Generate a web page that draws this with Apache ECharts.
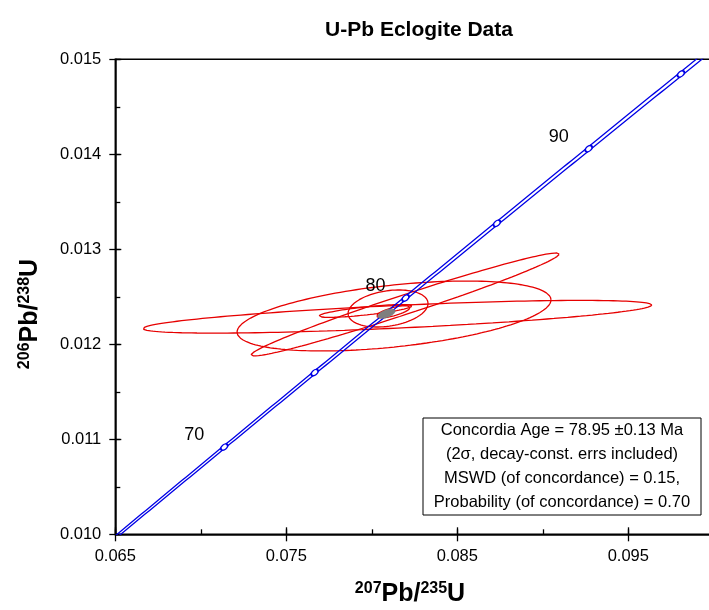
<!DOCTYPE html>
<html>
<head>
<meta charset="utf-8">
<title>U-Pb Eclogite Data</title>
<script src="https://cdn.jsdelivr.net/npm/echarts@6/dist/echarts.min.js"></script>
<style>
  html, body { margin: 0; padding: 0; background: #ffffff; }
  #chart { width: 709px; height: 610px; }
</style>
</head>
<body>
<div id="chart"></div>
<script>
// Decay constants (per year) and the relative uncertainty used for the concordia band
const LAMBDA_235 = 9.8485e-10;
const LAMBDA_238 = 1.55125e-10;
const LAMBDA_BAND = 0.0016;

// Age range of the concordia curve (Ma) and the ages that get a tick marker / a label
const curveStartMa = 60;
const curveEndMa = 100;
const markerAgesMa = [70, 75, 80, 85, 90, 95];
const labelAgesMa = [70, 80, 90];

// Analyses: 207Pb/235U, 2-sigma, 206Pb/238U, 2-sigma, error correlation
const spotPb207U235 = [0.08150, 0.08130, 0.08195, 0.08095, 0.07963, 0.08126];
const spotErr207    = [0.01488, 0.00918, 0.00901, 0.00234, 0.00272, 0.00098];
const spotPb206U238 = [0.012290, 0.012298, 0.012419, 0.012377, 0.012351, 0.012343];
const spotErr206    = [0.000172, 0.000368, 0.000542, 0.000195, 0.0000674, 0.000063];
const spotRho       = [0.72, 0.46, 0.98, 0.27, 0.78, 0.70];

// Concordia age ellipse (78.95 Ma)
const meanPb207U235 = [0.080857];
const meanErr207    = [0.00050];
const meanPb206U238 = [0.012322];
const meanErr206    = [0.000048];
const meanRho       = [0.55];

// Axis ranges and tick labels
const xMin = 0.065, xMax = 0.100, xStep = 0.01;
const yMin = 0.010, yMax = 0.015, yStep = 0.001;
const xTickLabels = ['0.065', '0.075', '0.085', '0.095'];
const yTickLabels = ['0.010', '0.011', '0.012', '0.013', '0.014', '0.015'];

const infoLines = [
  'Concordia Age = 78.95 \u00b10.13 Ma',
  '(2\u03c3, decay-const. errs included)',
  'MSWD (of concordance) = 0.15,',
  'Probability (of concordance) = 0.70'
];

function concordiaPoint(ageMa, f235) {
  const t = ageMa * 1e6;
  return [Math.exp(LAMBDA_235 * f235 * t) - 1, Math.exp(LAMBDA_238 * t) - 1];
}

function concordiaLine(f235) {
  const pts = [];
  for (let a = curveStartMa; a <= curveEndMa + 1e-9; a += 0.25) pts.push(concordiaPoint(a, f235));
  return pts;
}

function ellipsePoints(cx, sx, cy, sy, rho) {
  const pts = [];
  const n = 180;
  const k = Math.sqrt(1 - rho * rho);
  for (let i = 0; i <= n; i++) {
    const t = (i / n) * Math.PI * 2;
    const c = Math.cos(t), s = Math.sin(t);
    pts.push([cx + sx * c, cy + sy * (rho * c + k * s)]);
  }
  return pts;
}

const FONT = '"Liberation Sans", Arial, Helvetica, sans-serif';
const RED = '#e60000';
const BLUE = '#0000e6';

const series = [];

// concordia band: two curves
[1 - LAMBDA_BAND, 1 + LAMBDA_BAND].forEach(function (f) {
  series.push({
    type: 'line', data: concordiaLine(f), showSymbol: false, symbol: 'none',
    lineStyle: { color: BLUE, width: 1.3 }, silent: true, z: 4, clip: true
  });
});

// age markers on the curve
series.push({
  type: 'scatter',
  data: markerAgesMa.map(function (a) { return concordiaPoint(a, 1); }),
  symbol: 'circle', symbolSize: [8, 5], symbolRotate: 39,
  itemStyle: { color: '#ffffff', borderColor: BLUE, borderWidth: 1.6, opacity: 1 },
  z: 6, silent: true
});

// age labels
series.push({
  type: 'scatter',
  data: labelAgesMa.map(function (a) { return { value: concordiaPoint(a, 1), name: String(a) }; }),
  symbolSize: 0,
  itemStyle: { opacity: 1 },
  label: {
    show: true, position: 'inside', offset: [-30, -12],
    formatter: function (p) { return p.name; },
    color: '#000000', textBorderWidth: 0, opacity: 1, fontFamily: FONT, fontSize: 18
  },
  z: 7, silent: true
});

// analysis error ellipses
for (let i = 0; i < spotPb207U235.length; i++) {
  series.push({
    type: 'line',
    data: ellipsePoints(spotPb207U235[i], spotErr207[i], spotPb206U238[i], spotErr206[i], spotRho[i]),
    showSymbol: false, symbol: 'none',
    lineStyle: { color: RED, width: 1.3 }, silent: true, z: 3, clip: true
  });
}

// concordia age ellipse (filled)
series.push({
  type: 'custom',
  data: [0],
  silent: true, z: 5,
  renderItem: function (params, api) {
    const pts = ellipsePoints(meanPb207U235[0], meanErr207[0], meanPb206U238[0], meanErr206[0], meanRho[0])
      .map(function (p) { return api.coord(p); });
    return { type: 'polygon', shape: { points: pts }, style: { fill: '#7f7f7f', stroke: '#7f7f7f', lineWidth: 1 } };
  }
});

const axisLineStyle = { color: '#000', width: 1.5 };

function makeAxis(kind, min, max, interval, opts) {
  const base = {
    type: 'value', min: min, max: max, interval: interval,
    position: kind === 'x' ? 'bottom' : 'left',
    splitLine: { show: false },
    axisLine: { show: opts.line, onZero: false, lineStyle: axisLineStyle },
    axisTick: { show: true, inside: opts.inside, length: opts.len, lineStyle: { color: '#000', width: 1.3 } },
    axisLabel: { show: false },
    scale: true
  };
  if (opts.labels) {
    const list = kind === 'x' ? xTickLabels : yTickLabels;
    base.axisLabel = {
      show: true, margin: 14, color: '#000', fontFamily: FONT, fontSize: 16.5,
      showMaxLabel: kind === 'y',
      formatter: function (v) { const s = v.toFixed(3); return list.indexOf(s) >= 0 ? s : ''; }
    };
  }
  return base;
}

const titleRich = {
  sup: { fontFamily: FONT, fontWeight: 'bold', fontSize: 16, padding: [0, 0, 11, 0], fill: '#000' },
  main: { fontFamily: FONT, fontWeight: 'bold', fontSize: 25, fill: '#000' }
};

const option = {
  animation: false,
  backgroundColor: '#ffffff',
  title: {
    text: 'U-Pb Eclogite Data', left: 414, top: 15, textAlign: 'center',
    textStyle: { fontFamily: FONT, fontWeight: 'bold', fontSize: 21, color: '#000' }
  },
  grid: {
    left: 115.3, top: 59.3, right: -4.8, bottom: 75.7,
    containLabel: false, outerBoundsMode: 'none',
    show: true, borderColor: '#000', borderWidth: 1.5, backgroundColor: 'transparent'
  },
  xAxis: [
    makeAxis('x', xMin, xMax, xStep, { line: true, inside: false, len: 7, labels: true }),
    makeAxis('x', xMin, xMax, xStep, { line: false, inside: true, len: 7 }),
    makeAxis('x', xMin, xMax, xStep / 2, { line: false, inside: true, len: 5 })
  ],
  yAxis: [
    makeAxis('y', yMin, yMax, yStep, { line: true, inside: false, len: 6, labels: true }),
    makeAxis('y', yMin, yMax, yStep, { line: false, inside: true, len: 6 }),
    makeAxis('y', yMin, yMax, yStep / 2, { line: false, inside: true, len: 5 })
  ],
  series: series,
  graphic: [
    {
      type: 'text', x: 410, y: 594,
      style: {
        text: '{sup|207}{main|Pb/}{sup|235}{main|U}',
        align: 'center', verticalAlign: 'middle',
        rich: titleRich
      }
    },
    {
      type: 'text', x: 30, y: 314, rotation: Math.PI / 2,
      style: {
        text: '{sup|206}{main|Pb/}{sup|238}{main|U}',
        align: 'center', verticalAlign: 'middle',
        rich: titleRich
      }
    },
    {
      type: 'group', x: 423, y: 418,
      children: [
        { type: 'rect', shape: { x: 0, y: 0, width: 278, height: 97 },
          style: { fill: '#ffffff', stroke: '#000', lineWidth: 1 }, z: 10 }
      ].concat(infoLines.map(function (t, i) {
        return {
          type: 'text', x: 139, y: 12 + i * 24, z: 11,
          style: { text: t, align: 'center', verticalAlign: 'middle', fontFamily: FONT, fontSize: 16.5, fill: '#000' }
        };
      }))
    }
  ]
};

const chart = echarts.init(document.getElementById('chart'), null, { renderer: 'canvas' });
chart.setOption(option);
</script>
</body>
</html>
